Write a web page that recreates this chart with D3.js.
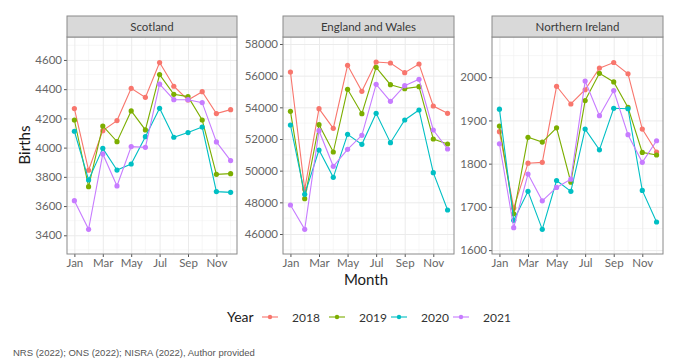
<!DOCTYPE html>
<html>
<head>
<meta charset="utf-8">
<script src="https://cdn.jsdelivr.net/npm/d3@7"></script>
<style>
  body { margin: 0; background: #fff; }
  text { font-family: Lato, "Noto Sans", sans-serif; }
</style>
</head>
<body>
<div id="chart"></div>
<script>
// Monthly births by nation, 2018-2021
const months = ['Jan', 'Feb', 'Mar', 'Apr', 'May', 'Jun', 'Jul', 'Aug', 'Sep', 'Oct', 'Nov', 'Dec'];
const years = ['2018', '2019', '2020', '2021'];
const yearColors = ['#F8766D', '#7CAE00', '#00BFC4', '#C77CFF'];
const regions = ['Scotland', 'England and Wales', 'Northern Ireland'];

const scotland2018 = [4267, 3845, 4116, 4185, 4406, 4344, 4582, 4420, 4326, 4383, 4233, 4260];
const scotland2019 = [4189, 3733, 4148, 4041, 4251, 4121, 4500, 4365, 4349, 4189, 3817, 3822];
const scotland2020 = [4112, 3779, 3995, 3846, 3888, 4075, 4269, 4071, 4103, 4141, 3699, 3694];
const scotland2021 = [3637, 3441, 3957, 3738, 4007, 4002, 4434, 4328, 4328, 4308, 4039, 3911];

const england2018 = [56232, 48821, 53916, 52674, 56653, 55010, 56863, 56800, 56189, 56737, 54084, 53621];
const england2019 = [53747, 48232, 52905, 51179, 55137, 53600, 56526, 55432, 55179, 55305, 52000, 51684];
const england2020 = [52884, 48505, 51305, 49579, 52295, 51663, 53621, 51768, 53200, 53832, 49874, 47516];
const england2021 = [47832, 46295, 52526, 50274, 51347, 52232, 55453, 54379, 55368, 55768, 52568, 51368];

const ni2018 = [1874, 1697, 1801, 1803, 1979, 1938, 1971, 2021, 2034, 2008, 1880, 1827];
const ni2019 = [1887, 1684, 1861, 1850, 1883, 1757, 1946, 2009, 1989, 1930, 1826, 1820];
const ni2020 = [1926, 1669, 1736, 1648, 1761, 1736, 1880, 1832, 1928, 1927, 1738, 1665];
const ni2021 = [1846, 1652, 1776, 1714, 1745, 1764, 1991, 1911, 1969, 1867, 1803, 1853];

const scotlandTicks = [3400, 3600, 3800, 4000, 4200, 4400, 4600];
const englandTicks = [46000, 48000, 50000, 52000, 54000, 56000, 58000];
const niTicks = [1600, 1700, 1800, 1900, 2000];

const panels = [
    {name: regions[0], series: [scotland2018, scotland2019, scotland2020, scotland2021],
     ticks: scotlandTicks, domain: [3272, 4757], x0: 67, x1: 237},
    {name: regions[1], series: [england2018, england2019, england2020, england2021],
     ticks: englandTicks, domain: [44737, 58442], x0: 283, x1: 454},
    {name: regions[2], series: [ni2018, ni2019, ni2020, ni2021],
     ticks: niTicks, domain: [1591, 2093], x0: 492, x1: 663}
];

const width = 680, height = 362;
const stripTop = 16, plotTop = 37, plotBottom = 254;

const svg = d3.select('#chart').append('svg')
    .attr('width', width)
    .attr('height', height);

panels.forEach(p => {
    const g = svg.append('g');

    const x = d3.scaleLinear().domain([0.48, 12.45]).range([p.x0, p.x1]);
    const y = d3.scaleLinear().domain(p.domain).range([plotBottom, plotTop]);

    // minor grid
    const step = p.ticks[1] - p.ticks[0];
    const minorY = p.ticks.map(t => t - step / 2).concat([p.ticks[p.ticks.length - 1] + step / 2])
        .filter(v => v > p.domain[0] && v < p.domain[1]);
    g.append('g').selectAll('line.minor-y')
        .data(minorY).enter().append('line')
        .attr('x1', p.x0).attr('x2', p.x1)
        .attr('y1', d => y(d)).attr('y2', d => y(d))
        .attr('stroke', '#f2f2f2').attr('stroke-width', 0.6);
    g.append('g').selectAll('line.minor-x')
        .data(d3.range(2, 13, 2)).enter().append('line')
        .attr('x1', d => x(d)).attr('x2', d => x(d))
        .attr('y1', plotTop).attr('y2', plotBottom)
        .attr('stroke', '#f2f2f2').attr('stroke-width', 0.6);

    // major grid
    g.append('g')
        .attr('transform', `translate(${p.x0},0)`)
        .call(d3.axisLeft(y).tickValues(p.ticks).tickSize(-(p.x1 - p.x0)).tickFormat(''))
        .call(a => a.select('.domain').remove())
        .call(a => a.selectAll('line').attr('stroke', '#ebebeb').attr('stroke-width', 1));
    g.append('g')
        .attr('transform', `translate(0,${plotBottom})`)
        .call(d3.axisBottom(x).tickValues(d3.range(1, 12, 2)).tickSize(-(plotBottom - plotTop)).tickFormat(''))
        .call(a => a.select('.domain').remove())
        .call(a => a.selectAll('line').attr('stroke', '#ebebeb').attr('stroke-width', 1));

    // axes
    const yAxis = g.append('g')
        .attr('transform', `translate(${p.x0},0)`)
        .call(d3.axisLeft(y).tickValues(p.ticks).tickSize(3).tickPadding(2).tickFormat(d3.format('d')));
    const xAxis = g.append('g')
        .attr('transform', `translate(0,${plotBottom})`)
        .call(d3.axisBottom(x).tickValues(d3.range(1, 12, 2)).tickSize(3).tickPadding(2)
            .tickFormat(d => months[d - 1]));
    [yAxis, xAxis].forEach(a => {
        a.select('.domain').remove();
        a.selectAll('line').attr('stroke', '#555');
        a.selectAll('text').attr('fill', '#666').style('font-size', '11.5px');
    });

    // lines and points
    const line = d3.line().x((d, i) => x(i + 1)).y(d => y(d));
    p.series.forEach((s, k) => {
        g.append('path')
            .datum(s)
            .attr('d', line)
            .attr('fill', 'none')
            .attr('stroke', yearColors[k])
            .attr('stroke-width', 1.1);
        g.append('g').selectAll('circle')
            .data(s).enter().append('circle')
            .attr('cx', (d, i) => x(i + 1))
            .attr('cy', d => y(d))
            .attr('r', 2.6)
            .attr('fill', yearColors[k]);
    });

    // panel border
    g.append('rect')
        .attr('x', p.x0).attr('y', plotTop)
        .attr('width', p.x1 - p.x0).attr('height', plotBottom - plotTop)
        .attr('fill', 'none').attr('stroke', '#8a8a8a').attr('stroke-width', 1);

    // strip
    g.append('rect')
        .attr('x', p.x0).attr('y', stripTop)
        .attr('width', p.x1 - p.x0).attr('height', plotTop - stripTop)
        .attr('fill', '#d9d9d9').attr('stroke', '#8a8a8a').attr('stroke-width', 1);
    g.append('text')
        .attr('x', (p.x0 + p.x1) / 2).attr('y', (stripTop + plotTop) / 2 + 4)
        .attr('text-anchor', 'middle')
        .attr('fill', '#3a3a3a')
        .style('font-size', '11.5px')
        .text(p.name);
});

// axis titles
svg.append('text')
    .attr('transform', 'translate(30,145) rotate(-90)')
    .attr('text-anchor', 'middle')
    .attr('fill', '#1a1a1a')
    .style('font-size', '15px')
    .text('Births');

svg.append('text')
    .attr('x', 366).attr('y', 285)
    .attr('text-anchor', 'middle')
    .attr('fill', '#1a1a1a')
    .style('font-size', '15px')
    .text('Month');

// legend
const legend = svg.append('g').attr('transform', 'translate(0,317)');
legend.append('text')
    .attr('x', 227).attr('y', 5)
    .attr('fill', '#1a1a1a')
    .style('font-size', '14px')
    .text('Year');
const keyX = [270, 337, 399, 461];
years.forEach((yr, k) => {
    const item = legend.append('g').attr('transform', `translate(${keyX[k]},0)`);
    item.append('line')
        .attr('x1', -8).attr('x2', 8)
        .attr('stroke', yearColors[k]).attr('stroke-width', 1.1);
    item.append('circle').attr('r', 2.2).attr('fill', yearColors[k]);
    item.append('text')
        .attr('x', 22).attr('y', 4.5)
        .attr('fill', '#333')
        .style('font-size', '12px')
        .text(yr);
});

// source caption
svg.append('text')
    .attr('x', 13).attr('y', 356)
    .attr('fill', '#555')
    .style('font-family', '"Liberation Sans", Arial, sans-serif')
    .style('font-size', '9.5px')
    .text('NRS (2022); ONS (2022); NISRA (2022), Author provided');
</script>
</body>
</html>
